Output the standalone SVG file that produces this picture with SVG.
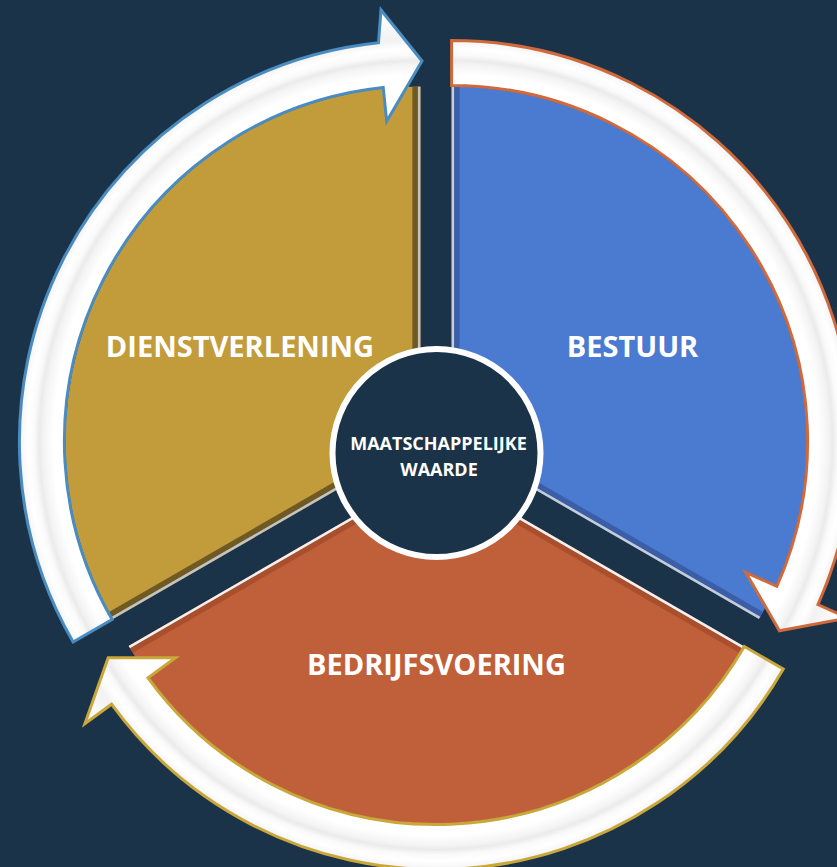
<svg xmlns="http://www.w3.org/2000/svg" width="837" height="867" viewBox="0 0 837 867">
<style>
.bg{fill:#1b3349}
.lbl{font-family:"Open Sans","Liberation Sans",sans-serif;font-weight:bold;fill:#ffffff;text-anchor:middle}
.big{font-size:29px}
.small{font-size:18px}
.edge{fill:none;stroke-linecap:butt}
.arrow{stroke-width:3;stroke-linejoin:miter}
</style>
<defs>
<clipPath id="cpBlue"><path d="M451.6 441.5 L451.6 86.5 A355 355 0 0 1 759.04 619 Z"/></clipPath>
<clipPath id="cpGold"><path d="M420.4 441.5 L112.96 619 A355 355 0 0 1 420.4 86.5 Z"/></clipPath>
<clipPath id="cpOrange"><path d="M436 468.5 L743.44 646 A355 355 0 0 1 128.56 646 Z"/></clipPath>
<radialGradient id="gGold" gradientUnits="userSpaceOnUse" cx="420.4" cy="441.5" r="434">
<stop offset="0.80" stop-color="#ffffff"/><stop offset="0.845" stop-color="#ffffff"/><stop offset="0.868" stop-color="#f4f4f4"/><stop offset="0.878" stop-color="#ebebeb"/><stop offset="0.89" stop-color="#fafafa"/><stop offset="0.905" stop-color="#ffffff"/><stop offset="0.925" stop-color="#f2f2f2"/><stop offset="1" stop-color="#ffffff"/>
</radialGradient>
<radialGradient id="gBlue" gradientUnits="userSpaceOnUse" cx="451.6" cy="441.5" r="434">
<stop offset="0.80" stop-color="#ffffff"/><stop offset="0.845" stop-color="#ffffff"/><stop offset="0.868" stop-color="#f4f4f4"/><stop offset="0.878" stop-color="#ebebeb"/><stop offset="0.89" stop-color="#fafafa"/><stop offset="0.905" stop-color="#ffffff"/><stop offset="0.925" stop-color="#f2f2f2"/><stop offset="1" stop-color="#ffffff"/>
</radialGradient>
<radialGradient id="gOrange" gradientUnits="userSpaceOnUse" cx="436" cy="468.5" r="434">
<stop offset="0.80" stop-color="#ffffff"/><stop offset="0.845" stop-color="#ffffff"/><stop offset="0.868" stop-color="#f4f4f4"/><stop offset="0.878" stop-color="#ebebeb"/><stop offset="0.89" stop-color="#fafafa"/><stop offset="0.905" stop-color="#ffffff"/><stop offset="0.925" stop-color="#f2f2f2"/><stop offset="1" stop-color="#ffffff"/>
</radialGradient>
</defs>
<rect class="bg" x="0" y="0" width="837" height="867"/>

<g id="bestuur">
<path d="M451.6 441.5 L451.6 86.5 A355 355 0 0 1 759.04 619 Z" fill="#4a7bd0"/>
<g clip-path="url(#cpBlue)">
<path class="edge" d="M451.6 86.5 L451.6 441.5 L759.04 619" stroke="#3a5fa8" stroke-width="16"/>
<path class="edge" d="M451.6 86.5 L451.6 441.5 L759.04 619" stroke="#c8ccd4" stroke-width="5"/>
</g>
<text class="lbl big" x="632.5" y="357">BESTUUR</text>
</g>

<g id="dienstverlening">
<path d="M420.4 441.5 L112.96 619 A355 355 0 0 1 420.4 86.5 Z" fill="#c29c3b"/>
<g clip-path="url(#cpGold)">
<path class="edge" d="M112.96 619 L420.4 441.5 L420.4 86.5" stroke="#6f5a24" stroke-width="16"/>
<path class="edge" d="M112.96 619 L420.4 441.5 L420.4 86.5" stroke="#c4c4c4" stroke-width="5"/>
</g>
<text class="lbl big" x="240" y="357">DIENSTVERLENING</text>
</g>

<g id="bedrijfsvoering">
<path d="M436 468.5 L743.44 646 A355 355 0 0 1 128.56 646 Z" fill="#c0603a"/>
<g clip-path="url(#cpOrange)">
<path class="edge" d="M128.56 646 L436 468.5 L743.44 646" stroke="#a94f2e" stroke-width="16"/>
<path class="edge" d="M128.56 646 L436 468.5 L743.44 646" stroke="#f2f2f2" stroke-width="5"/>
</g>
<text class="lbl big" x="436.5" y="675">BEDRIJFSVOERING</text>
</g>

<g id="connectors">
<path class="arrow" d="M73.12 642 A401 401 0 0 1 378.48 42.7 L381 10 L422 61 L386.7 121.3 L383.2 87.45 A356 356 0 0 0 112.09 619.5 Z" fill="url(#gGold)" stroke="#4a8cc0"/>
<path class="arrow" d="M451.6 40.5 A401 401 0 0 1 817.93 604.6 L848.08 618.02 L779.4 630.75 L745.76 572.47 L776.82 586.3 A356 356 0 0 0 451.6 85.5 Z" fill="url(#gBlue)" stroke="#d06a3c"/>
<path class="arrow" d="M783.28 669 A401 401 0 0 1 111.58 704.2 L84.89 723.6 L108.2 657.75 L175.5 657.77 L147.99 677.75 A356 356 0 0 0 744.31 646.5 Z" fill="url(#gOrange)" stroke="#c9a73a"/>
</g>

<g id="maatschappelijke-waarde">
<circle cx="436.5" cy="453" r="104" fill="#1b3349" stroke="#ffffff" stroke-width="6"/>
<text class="lbl small" x="438.5" y="450">MAATSCHAPPELIJKE</text>
<text class="lbl small" x="439" y="476">WAARDE</text>
</g>
</svg>
